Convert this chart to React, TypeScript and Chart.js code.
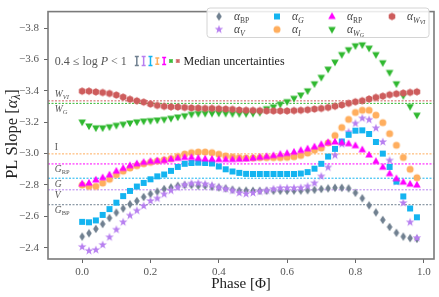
import React, { useEffect, useRef } from 'react';
import { Chart, registerables } from 'chart.js';
Chart.register(...registerables);

const SERIF = '"Liberation Serif", "DejaVu Serif", serif';

const phase = [0.00, 0.02, 0.04, 0.06, 0.08, 0.10, 0.12, 0.14, 0.16, 0.18, 0.20, 0.22, 0.24, 0.26, 0.28, 0.30, 0.32, 0.34, 0.36, 0.38, 0.40, 0.42, 0.44, 0.46, 0.48, 0.50, 0.52, 0.54, 0.56, 0.58, 0.60, 0.62, 0.64, 0.66, 0.68, 0.70, 0.72, 0.74, 0.76, 0.78, 0.80, 0.82, 0.84, 0.86, 0.88, 0.90, 0.92, 0.94, 0.96, 0.98];

const alphaBP = [-2.471, -2.492, -2.520, -2.551, -2.589, -2.624, -2.650, -2.677, -2.698, -2.723,
  -2.743, -2.758, -2.774, -2.784, -2.795, -2.799, -2.799, -2.795, -2.795, -2.789,
  -2.784, -2.778, -2.770, -2.764, -2.764, -2.763, -2.763, -2.763, -2.763, -2.763,
  -2.763, -2.764, -2.764, -2.766, -2.769, -2.774, -2.778, -2.782, -2.782, -2.778,
  -2.750, -2.715, -2.670, -2.625, -2.577, -2.532, -2.495, -2.471, -2.461, -2.456];

const alphaV = [-2.405, -2.380, -2.386, -2.418, -2.467, -2.515, -2.563, -2.605, -2.636, -2.666,
  -2.698, -2.714, -2.741, -2.764, -2.784, -2.801, -2.809, -2.811, -2.805, -2.797,
  -2.784, -2.774, -2.764, -2.749, -2.743, -2.749, -2.758, -2.764, -2.774, -2.780,
  -2.780, -2.780, -2.782, -2.791, -2.811, -2.855, -2.912, -2.989, -3.060, -3.136,
  -3.192, -3.225, -3.216, -3.162, -3.074, -2.956, -2.820, -2.685, -2.562, -2.462];

const alphaG = [-2.565, -2.562, -2.574, -2.609, -2.646, -2.687, -2.729, -2.762, -2.790, -2.813,
  -2.836, -2.855, -2.867, -2.890, -2.915, -2.935, -2.940, -2.942, -2.940, -2.937,
  -2.918, -2.900, -2.886, -2.877, -2.871, -2.870, -2.870, -2.870, -2.870, -2.870,
  -2.870, -2.870, -2.873, -2.882, -2.904, -2.935, -2.981, -3.030, -3.077, -3.120,
  -3.146, -3.148, -3.125, -3.074, -3.000, -2.915, -2.822, -2.727, -2.650, -2.594];

const alphaI = [-2.799, -2.791, -2.791, -2.812, -2.836, -2.865, -2.888, -2.908, -2.923, -2.935,
  -2.944, -2.952, -2.960, -2.968, -2.981, -2.997, -3.006, -3.010, -3.010, -3.006,
  -2.996, -2.985, -2.978, -2.974, -2.972, -2.972, -2.974, -2.974, -2.974, -2.974,
  -2.976, -2.980, -2.988, -3.003, -3.022, -3.035, -3.068, -3.115, -3.166, -3.218,
  -3.262, -3.276, -3.276, -3.245, -3.197, -3.127, -3.053, -2.975, -2.900, -2.846];

const alphaRP = [-2.807, -2.812, -2.832, -2.846, -2.864, -2.888, -2.906, -2.923, -2.935, -2.944,
  -2.950, -2.954, -2.956, -2.964, -2.970, -2.975, -2.975, -2.970, -2.966, -2.964,
  -2.962, -2.962, -2.962, -2.964, -2.966, -2.970, -2.976, -2.981, -2.987, -2.995,
  -3.001, -3.009, -3.020, -3.030, -3.043, -3.058, -3.070, -3.074, -3.070, -3.063,
  -3.050, -3.024, -2.991, -2.950, -2.913, -2.872, -2.840, -2.818, -2.805, -2.799];

const alphaWG = [-3.201, -3.176, -3.164, -3.164, -3.171, -3.180, -3.187, -3.195, -3.202, -3.207,
  -3.210, -3.214, -3.218, -3.225, -3.233, -3.241, -3.251, -3.256, -3.257, -3.257,
  -3.258, -3.257, -3.255, -3.255, -3.255, -3.257, -3.262, -3.286, -3.298, -3.315,
  -3.331, -3.352, -3.373, -3.400, -3.445, -3.486, -3.538, -3.583, -3.631, -3.662,
  -3.687, -3.693, -3.672, -3.631, -3.579, -3.517, -3.445, -3.370, -3.300, -3.245];

const alphaWVI = [-3.398, -3.398, -3.393, -3.389, -3.383, -3.373, -3.360, -3.346, -3.336, -3.328,
  -3.316, -3.307, -3.301, -3.298, -3.297, -3.294, -3.291, -3.290, -3.288, -3.288,
  -3.286, -3.284, -3.282, -3.278, -3.276, -3.275, -3.274, -3.272, -3.272, -3.272,
  -3.272, -3.274, -3.276, -3.279, -3.284, -3.288, -3.294, -3.302, -3.310, -3.320,
  -3.330, -3.337, -3.348, -3.358, -3.366, -3.375, -3.381, -3.386, -3.390, -3.394];

// reference slopes (horizontal dashed lines), in series order
const refLevels = [-2.674, -2.769, -2.843, -2.998, -2.934, -3.320, -3.336];

// Median uncertainties (I-beams)
const uncX = [0.16, 0.18, 0.20, 0.22, 0.24, 0.26, 0.28];
const uncHalf = [0.028, 0.028, 0.028, 0.020, 0.022, 0.006, 0.006];
const uncY = -3.59;

const yTicks = [-3.8, -3.6, -3.4, -3.2, -3.0, -2.8, -2.6, -2.4];
const xTicks = [0.0, 0.2, 0.4, 0.6, 0.8, 1.0];

const X_MIN = -0.1, X_MAX = 1.03;
const Y_TOP = -3.905, Y_BOTTOM = -2.328;

const seriesColors = ['#708090', '#b77ff0', '#14b4f0', '#ffae5e', '#ff00ff', '#2fb82f', '#cd5c5c'];
const seriesShapes = ['diamond', 'star', 'square', 'circle', 'triUp', 'triDown', 'hex'];
const seriesValues = [alphaBP, alphaV, alphaG, alphaI, alphaRP, alphaWG, alphaWVI];

type Seg = { t: string; size: number; italic?: boolean; dy?: number };

const seriesLegend: Seg[][] = [
  [{ t: 'α', size: 11.5, italic: true }, { t: 'BP', size: 7.5, dy: 2.5 }],
  [{ t: 'α', size: 11.5, italic: true }, { t: 'V', size: 8, italic: true, dy: 2.5 }],
  [{ t: 'α', size: 11.5, italic: true }, { t: 'G', size: 8, italic: true, dy: 2.5 }],
  [{ t: 'α', size: 11.5, italic: true }, { t: 'I', size: 8, italic: true, dy: 2.5 }],
  [{ t: 'α', size: 11.5, italic: true }, { t: 'RP', size: 7.5, dy: 2.5 }],
  [{ t: 'α', size: 11.5, italic: true }, { t: 'W', size: 8, italic: true, dy: 2.5 }, { t: 'G', size: 6, italic: true, dy: 4 }],
  [{ t: 'α', size: 11.5, italic: true }, { t: 'W', size: 8, italic: true, dy: 2.5 }, { t: 'VI', size: 6, italic: true, dy: 4 }],
];

const refLabels: { segs: Seg[]; above: boolean }[] = [
  { segs: [{ t: 'G', size: 9.5, italic: true }, { t: 'BP', size: 6.5, dy: 2 }], above: false },
  { segs: [{ t: 'V', size: 9.5, italic: true }], above: false },
  { segs: [{ t: 'G', size: 9.5, italic: true }], above: false },
  { segs: [{ t: 'I', size: 9.5 }], above: true },
  { segs: [{ t: 'G', size: 9.5, italic: true }, { t: 'RP', size: 6.5, dy: 2 }], above: false },
  { segs: [{ t: 'W', size: 9.5, italic: true }, { t: 'G', size: 6.5, italic: true, dy: 2 }], above: false },
  { segs: [{ t: 'W', size: 9.5, italic: true }, { t: 'VI', size: 6.5, italic: true, dy: 2 }], above: true },
];

function fontOf(s: Seg) {
  return `${s.italic ? 'italic ' : ''}${s.size}px ${SERIF}`;
}

function drawRich(ctx: CanvasRenderingContext2D, segs: Seg[], x: number, y: number, align: 'left' | 'center' = 'left') {
  let w = 0;
  for (const s of segs) { ctx.font = fontOf(s); w += ctx.measureText(s.t).width; }
  let cx = align === 'center' ? x - w / 2 : x;
  ctx.textAlign = 'left';
  ctx.textBaseline = 'alphabetic';
  for (const s of segs) {
    ctx.font = fontOf(s);
    ctx.fillText(s.t, cx, y + (s.dy || 0));
    cx += ctx.measureText(s.t).width;
  }
}

function makeMarker(shape: string, color: string): HTMLCanvasElement {
  const size = 10;
  const c = document.createElement('canvas');
  c.width = size; c.height = size;
  const g = c.getContext('2d')!;
  g.fillStyle = color;
  const cx = size / 2, cy = size / 2;
  g.beginPath();
  if (shape === 'diamond') {
    g.moveTo(cx, cy - 4.2); g.lineTo(cx + 2.8, cy); g.lineTo(cx, cy + 4.2); g.lineTo(cx - 2.8, cy);
  } else if (shape === 'square') {
    g.rect(cx - 3, cy - 3, 6, 6);
  } else if (shape === 'circle') {
    g.arc(cx, cy, 3.5, 0, Math.PI * 2);
  } else if (shape === 'triUp') {
    const r = 4.2;
    g.moveTo(cx, cy - r); g.lineTo(cx + r * 0.9, cy + r * 0.6); g.lineTo(cx - r * 0.9, cy + r * 0.6);
  } else if (shape === 'triDown') {
    const r = 4.2;
    g.moveTo(cx, cy + r); g.lineTo(cx + r * 0.9, cy - r * 0.6); g.lineTo(cx - r * 0.9, cy - r * 0.6);
  } else if (shape === 'hex') {
    const r = 3.8;
    for (let i = 0; i < 6; i++) {
      const a = -Math.PI / 2 + (i * Math.PI) / 3;
      const px = cx + r * Math.cos(a), py = cy + r * Math.sin(a);
      if (i === 0) g.moveTo(px, py); else g.lineTo(px, py);
    }
  } else if (shape === 'star') {
    const ro = 4.5, ri = 1.8;
    for (let i = 0; i < 10; i++) {
      const a = -Math.PI / 2 + (i * Math.PI) / 5;
      const r = i % 2 === 0 ? ro : ri;
      const px = cx + r * Math.cos(a), py = cy + r * Math.sin(a);
      if (i === 0) g.moveTo(px, py); else g.lineTo(px, py);
    }
  }
  g.closePath();
  g.fill();
  return c;
}

function fmtTick(v: number) {
  const s = Math.abs(v).toFixed(1);
  return v < 0 ? '\u2212' + s : s;
}

export default function App() {
  const ref = useRef<HTMLCanvasElement>(null);

  useEffect(() => {
    const canvas = ref.current!;
    const markers = seriesShapes.map((s, i) => makeMarker(s, seriesColors[i]));

    const datasets: any[] = [];
    seriesValues.forEach((vals, i) => {
      datasets.push({
        type: 'scatter',
        data: phase.map((p, k) => ({ x: p, y: vals[k] })),
        pointStyle: markers[i],
        pointRadius: 4,
        pointHoverRadius: 4,
        order: 20 - i,
      });
    });
    refLevels.forEach((v, i) => {
      datasets.push({
        type: 'line',
        data: [{ x: X_MIN, y: v }, { x: X_MAX, y: v }],
        borderColor: seriesColors[i],
        borderWidth: 1,
        borderDash: [2, 1.5],
        pointRadius: 0,
        fill: false,
        showLine: true,
        order: 100,
      });
    });

    const deco = {
      id: 'deco',
      afterDatasetsDraw(chart: any) {
        const ctx: CanvasRenderingContext2D = chart.ctx;
        const xs = chart.scales.x, ys = chart.scales.y;
        ctx.save();
        ctx.fillStyle = '#555';
        const lx = xs.getPixelForValue(-0.08);
        refLevels.forEach((v, i) => {
          const py = ys.getPixelForValue(v);
          const lab = refLabels[i];
          drawRich(ctx, lab.segs, lx, lab.above ? py - 3.5 : py + 8.5);
        });
        ctx.restore();
      },
      afterDraw(chart: any) {
        const ctx: CanvasRenderingContext2D = chart.ctx;
        const a = chart.chartArea;
        const xs = chart.scales.x, ys = chart.scales.y;
        ctx.save();
        // frame
        ctx.strokeStyle = '#7a7a7a';
        ctx.lineWidth = 1.6;
        ctx.strokeRect(a.left, a.top, a.right - a.left, a.bottom - a.top);

        // annotation + median uncertainties
        const cy = ys.getPixelForValue(uncY);
        ctx.fillStyle = '#555';
        drawRich(ctx, [
          { t: '0.4 \u2264 log ', size: 12 },
          { t: 'P', size: 12, italic: true },
          { t: ' < 1', size: 12 },
        ], xs.getPixelForValue(-0.08), cy + 4);
        uncX.forEach((ux, i) => {
          const px = xs.getPixelForValue(ux);
          const y1 = ys.getPixelForValue(uncY - uncHalf[i]);
          const y2 = ys.getPixelForValue(uncY + uncHalf[i]);
          ctx.strokeStyle = seriesColors[i];
          ctx.lineWidth = 1.5;
          ctx.beginPath();
          ctx.moveTo(px, y1); ctx.lineTo(px, y2);
          ctx.moveTo(px - 2, y1); ctx.lineTo(px + 2, y1);
          ctx.moveTo(px - 2, y2); ctx.lineTo(px + 2, y2);
          ctx.stroke();
        });
        ctx.fillStyle = '#222';
        drawRich(ctx, [{ t: 'Median uncertainties', size: 12 }], xs.getPixelForValue(0.297), cy + 4);

        // legend
        const L = 207, T = 8, R = 429, B = 37.5, rr = 3;
        ctx.beginPath();
        ctx.moveTo(L + rr, T); ctx.lineTo(R - rr, T); ctx.quadraticCurveTo(R, T, R, T + rr);
        ctx.lineTo(R, B - rr); ctx.quadraticCurveTo(R, B, R - rr, B);
        ctx.lineTo(L + rr, B); ctx.quadraticCurveTo(L, B, L, B - rr);
        ctx.lineTo(L, T + rr); ctx.quadraticCurveTo(L, T, L + rr, T);
        ctx.closePath();
        ctx.fillStyle = 'rgba(255,255,255,0.85)';
        ctx.fill();
        ctx.strokeStyle = '#d4d4d4';
        ctx.lineWidth = 1;
        ctx.stroke();
        const colMarkerX = [219, 277, 332, 392];
        const rowY = [16.5, 29.5];
        for (let i = 0; i < seriesValues.length; i++) {
          const col = Math.floor(i / 2), row = i % 2;
          const mx = colMarkerX[col], my = rowY[row];
          const m = markers[i];
          ctx.drawImage(m, mx - m.width / 2, my - m.height / 2);
          ctx.fillStyle = '#444';
          drawRich(ctx, seriesLegend[i], mx + 15, my + 3.5);
        }

        // axis titles
        ctx.fillStyle = '#222';
        drawRich(ctx, [{ t: 'Phase [\u03A6]', size: 15 }], (a.left + a.right) / 2, 288, 'center');
        ctx.save();
        ctx.translate(16.5, 134);
        ctx.rotate(-Math.PI / 2);
        drawRich(ctx, [
          { t: 'PL Slope [', size: 16.5 },
          { t: 'α', size: 16.5, italic: true },
          { t: 'λ', size: 11.5, italic: true, dy: 3 },
          { t: ']', size: 16.5 },
        ], 0, 0, 'center');
        ctx.restore();
        ctx.restore();
      },
    };

    const chart = new Chart(canvas, {
      type: 'scatter',
      data: { datasets },
      options: {
        responsive: false,
        animation: false,
        devicePixelRatio: 1,
        events: [],
        layout: { padding: { left: 0, right: 2, top: 4, bottom: 0 } },
        plugins: { legend: { display: false }, tooltip: { enabled: false } },
        scales: {
          x: {
            type: 'linear',
            min: X_MIN,
            max: X_MAX,
            afterBuildTicks: (s: any) => { s.ticks = xTicks.map((v) => ({ value: v })); },
            afterFit: (s: any) => { s.height = 38; },
            grid: { drawOnChartArea: false, drawTicks: true, tickLength: 4, tickColor: '#666', tickWidth: 1 },
            border: { display: false },
            ticks: {
              color: '#555',
              font: { family: SERIF, size: 11 },
              padding: 3,
              maxRotation: 0,
              autoSkip: false,
              callback: (v: any) => Number(v).toFixed(1),
            },
          },
          y: {
            type: 'linear',
            reverse: true,
            min: Y_TOP,
            max: Y_BOTTOM,
            afterBuildTicks: (s: any) => { s.ticks = yTicks.map((v) => ({ value: v })); },
            afterFit: (s: any) => { s.width = 48; },
            grid: { drawOnChartArea: false, drawTicks: true, tickLength: 4, tickColor: '#666', tickWidth: 1 },
            border: { display: false },
            ticks: {
              color: '#555',
              font: { family: SERIF, size: 11 },
              padding: 5,
              autoSkip: false,
              callback: (v: any) => fmtTick(Number(v)),
            },
          },
        },
      } as any,
      plugins: [deco],
    });
    return () => chart.destroy();
  }, []);

  return (
    <div style={{ position: 'absolute', left: 0, top: 0, width: 439, height: 297 }}>
      <canvas ref={ref} width={439} height={297} style={{ display: 'block', width: 439, height: 297 }} />
    </div>
  );
}
